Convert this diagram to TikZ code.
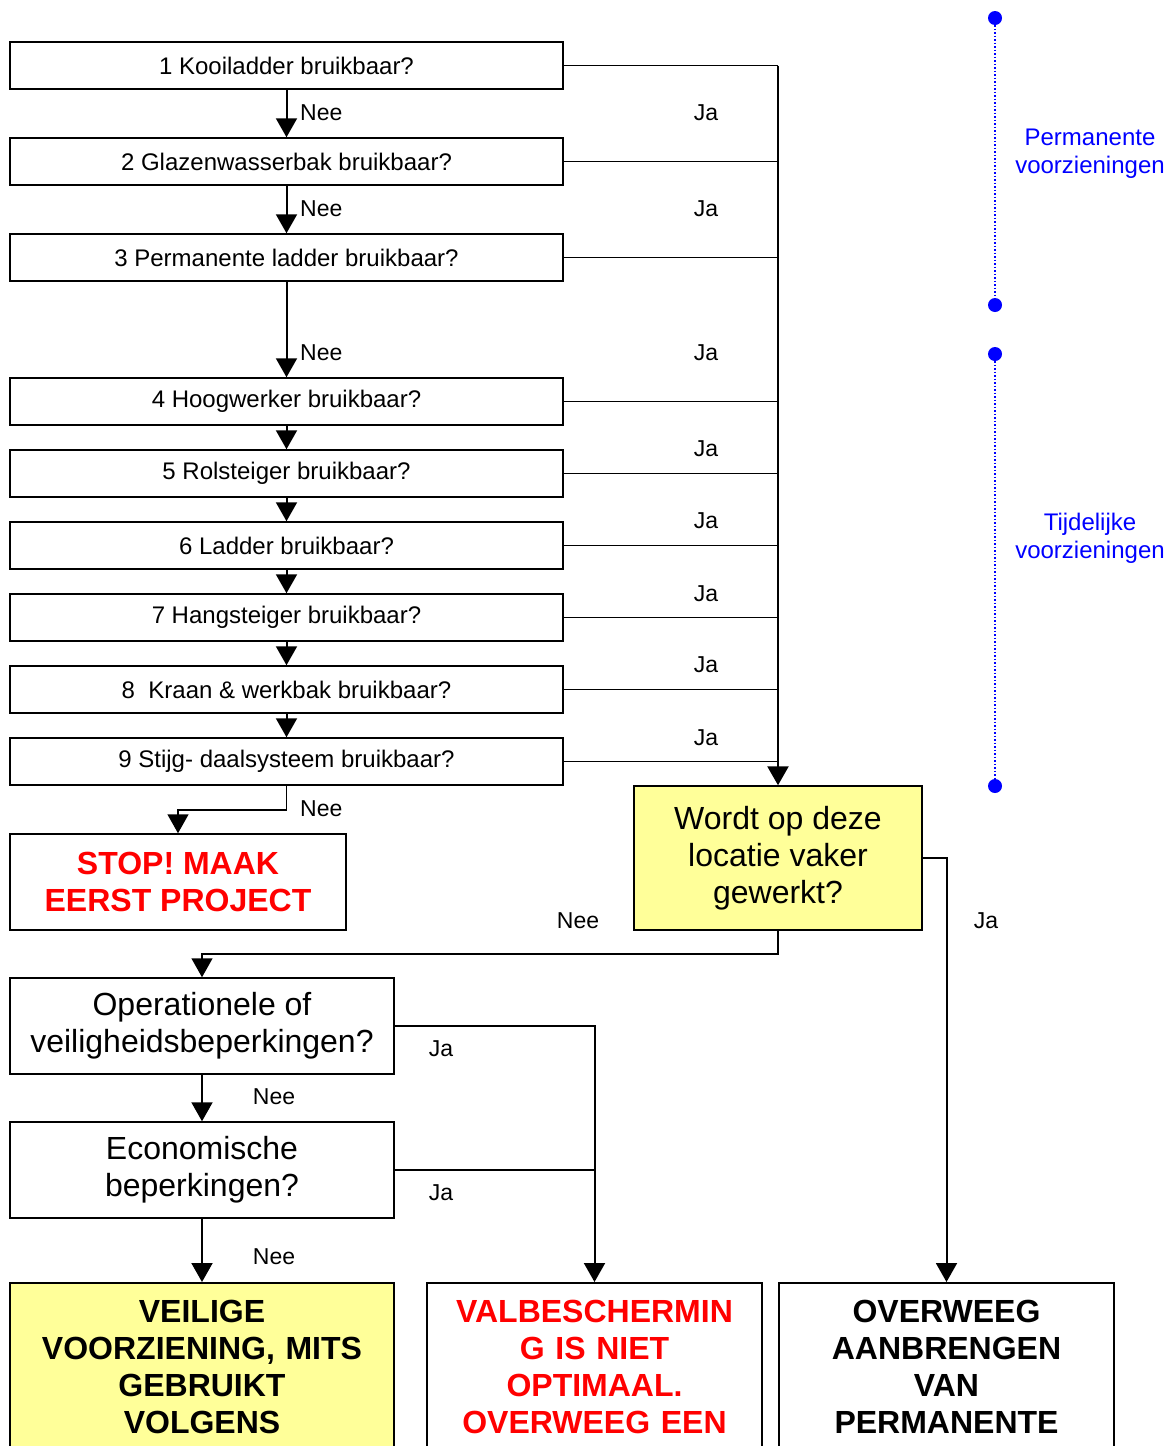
\documentclass[tikz,border=0pt]{standalone}
\usepackage{fontspec}
\setmainfont{Liberation Sans}
\usetikzlibrary{arrows.meta}
\definecolor{geel}{HTML}{FFFF99}
\definecolor{blauw}{HTML}{0000FF}
\begin{document}
\begin{tikzpicture}[x=1pt,y=-1pt,>={Triangle[width=21pt,length=19pt]},line join=miter,
	vraag/.style={draw,line width=1.5pt,minimum width=553pt,minimum height=47pt,inner sep=0pt,font=\fontsize{24}{28}\selectfont},
	groot/.style={draw,line width=1.5pt,inner sep=0pt,align=center,font=\fontsize{32}{37}\selectfont},
	eind/.style={draw,line width=1.5pt,anchor=north,text width=311pt,inner xsep=12pt,inner ysep=17pt,align=center,font=\fontsize{32}{37}\selectfont\bfseries},
	lbl/.style={inner sep=0pt,font=\fontsize{23}{27}\selectfont},
	pijl/.style={->,line width=2pt},
	tak/.style={line width=1.5pt}]
	\useasboundingbox (0,0) rectangle (1168,1446);
	\clip (0,0) rectangle (1168,1446);
	%vragen
	\node[vraag] (v1) at (286.5,65.5) {1 Kooiladder bruikbaar?};
	\node[vraag] (v2) at (286.5,161.5) {2 Glazenwasserbak bruikbaar?};
	\node[vraag] (v3) at (286.5,257.5) {3 Permanente ladder bruikbaar?};
	\node[vraag] (v4) at (286.5,401.5) {4 Hoogwerker bruikbaar?};
	\node[vraag] (v5) at (286.5,473.5) {5 Rolsteiger bruikbaar?};
	\node[vraag] (v6) at (286.5,545.5) {6 Ladder bruikbaar?};
	\node[vraag] (v7) at (286.5,617.5) {7 Hangsteiger bruikbaar?};
	\node[vraag] (v8) at (286.5,689.5) {8\ \ Kraan \& werkbak bruikbaar?};
	\node[vraag] (v9) at (286.5,761.5) {9 Stijg- daalsysteem bruikbaar?};
	\node[groot,fill=geel,minimum width=288pt,minimum height=144pt] (w) at (778,858) {Wordt op deze\\locatie vaker\\gewerkt?};
	\node[groot,minimum width=336pt,minimum height=96pt,text=red,font=\fontsize{32}{37}\selectfont\bfseries] (stop) at (178,882) {STOP! MAAK\\EERST PROJECT};
	\node[groot,minimum width=384pt,minimum height=96pt] (op) at (202,1026) {Operationele of\\veiligheidsbeperkingen?};
	\node[groot,minimum width=384pt,minimum height=96pt] (eco) at (202,1170) {Economische\\beperkingen?};
	\node[eind,fill=geel,text width=360pt] (veilig) at (202,1282) {VEILIGE\\VOORZIENING, MITS\\GEBRUIKT\\VOLGENS};
	\node[eind,text=red] (val) at (594.5,1282) {VALBESCHERMIN\\G IS NIET\\OPTIMAAL.\\OVERWEEG EEN};
	\node[eind] (ov) at (946.5,1282) {OVERWEEG\\AANBRENGEN\\VAN\\PERMANENTE};
	%Nee
	\draw[pijl] (v1) -- (v2);
	\draw[pijl] (v2) -- (v3);
	\draw[pijl] (v3) -- (v4);
	\foreach \a/\b in {4/5,5/6,6/7,7/8,8/9}
		\draw[pijl] (v\a.south) -- (v\b.north);
	\draw[tak,->] (v9.south) -- ++(0,24) -| (stop.north);
	\node[lbl,anchor=west] (n1) at (300,113) {Nee};
	\node[lbl,anchor=west] (n2) at (300,209) {Nee};
	\node[lbl,anchor=west] (n3) at (300,353) {Nee};
	\node[lbl,anchor=west] (n9) at (300,809) {Nee};
	%Ja
	\coordinate (knik) at (v1.east -| w.north);
	\draw[tak] (v1.east) -- (knik);
	\foreach \k in {2,...,9}
		\draw[tak] (v\k.east) -- (v\k.east -| w.north);
	\draw[->,line width=2.5pt] (knik) -- (w.north);
	\foreach \y/\i in {113/1,209/2,353/3,449/4,521/5,594/6,665/7,738/8}
		\node[lbl] (ja\i) at (706,\y) {Ja};
	%onderste deel
	\draw[tak,->] (w.south) -- ++(0,23) -| (op.north);
	\node[lbl] (nw) at (578,921) {Nee};
	\draw[pijl] (w.east) -| (ov.north);
	\node[lbl] (jw) at (986,921) {Ja};
	\draw[pijl] (op.east) -| (val.north);
	\draw[tak] (eco.east) -- (eco.east -| val.north);
	\node[lbl] (jo) at (441,1049) {Ja};
	\node[lbl] (je) at (441,1193) {Ja};
	\draw[pijl] (op.south) -- (eco.north);
	\draw[pijl] (eco.south) -- (veilig.north);
	\node[lbl] (no) at (274,1097) {Nee};
	\node[lbl] (ne) at (274,1257) {Nee};
	%voorzieningen
	\draw[blauw,dotted,line width=1.5pt] (995,18) -- (995,305);
	\fill[blauw] (995,18) circle (7) (995,305) circle (7);
	\draw[blauw,dotted,line width=1.5pt] (995,354) -- (995,786);
	\fill[blauw] (995,354) circle (7) (995,786) circle (7);
	\node[lbl,text=blauw,align=center,font=\fontsize{24}{28}\selectfont] (perm) at (1090,154) {Permanente\\voorzieningen};
	\node[lbl,text=blauw,align=center,font=\fontsize{24}{28}\selectfont] (tijd) at (1090,538) {Tijdelijke\\voorzieningen};
\end{tikzpicture}
\end{document}
